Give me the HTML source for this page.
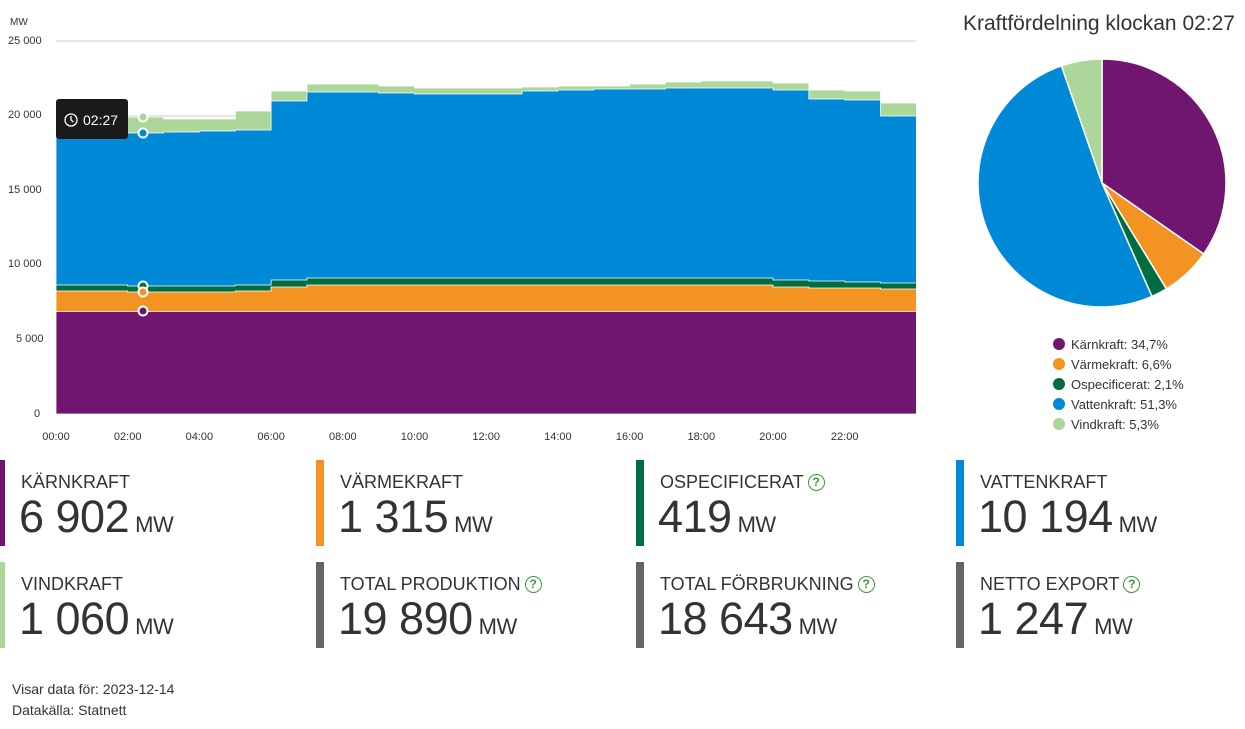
<!DOCTYPE html>
<html><head><meta charset="utf-8"><style>
body{margin:0;width:1245px;height:729px;background:#fff;font-family:"Liberation Sans",sans-serif;color:#333;position:relative;overflow:hidden}
.card{position:absolute;width:300px;height:86px}
.card .bar{position:absolute;left:0;top:0;width:8px;height:86px}
.card .lab{position:absolute;left:24px;top:12px;font-size:18px;color:#333;white-space:nowrap}
.card .val{position:absolute;left:22px;top:31px;font-size:45px;color:#333;white-space:nowrap;letter-spacing:-0.5px}
.card .val span{font-size:22px;margin-left:6px}
.q{display:inline-block;width:15px;height:15px;border:1.5px solid #3a9a3a;border-radius:50%;color:#3a9a3a;font-size:12px;line-height:15px;text-align:center;vertical-align:2px;margin-left:4px;font-weight:bold}
.foot{position:absolute;left:12px;font-size:14px;color:#333}
</style></head><body>
<svg id="ch" width="1245" height="450" style="position:absolute;left:0;top:0" font-family="Liberation Sans, sans-serif">
<text x="10" y="25" font-size="10" fill="#333">MW</text>
<g font-size="11" fill="#333">
<text x="8" y="44">25 000</text><text x="8" y="118">20 000</text><text x="8" y="193">15 000</text>
<text x="8" y="267">10 000</text><text x="16" y="342">5 000</text><text x="34" y="417">0</text>
</g>
<line x1="56" y1="41" x2="916" y2="41" stroke="#ccc"/>
<line x1="56" y1="116" x2="916" y2="116" stroke="#ccc"/>
<g id="areas"></g>
<g font-size="11" fill="#333" text-anchor="middle" id="xt"></g>
<g id="pie"></g>
<text x="1099" y="30" font-size="21" fill="#333" text-anchor="middle">Kraftfördelning klockan 02:27</text>
<g font-size="13" fill="#333">
<circle cx="1059" cy="344" r="6" fill="#701570"/><text x="1071" y="349">Kärnkraft: 34,7%</text>
<circle cx="1059" cy="364" r="6" fill="#f39322"/><text x="1071" y="369">Värmekraft: 6,6%</text>
<circle cx="1059" cy="384" r="6" fill="#006e41"/><text x="1071" y="389">Ospecificerat: 2,1%</text>
<circle cx="1059" cy="404" r="6" fill="#0089d6"/><text x="1071" y="409">Vattenkraft: 51,3%</text>
<circle cx="1059" cy="424" r="6" fill="#acd69a"/><text x="1071" y="429">Vindkraft: 5,3%</text>
</g>
<g id="mk"></g>
<rect x="56" y="99" width="72" height="40" rx="3" fill="#1a1a1a"/>
<circle cx="71" cy="120" r="6" fill="none" stroke="#fff" stroke-width="1.3"/><path d="M71 116v4l2.5 2" stroke="#fff" fill="none" stroke-width="1.3"/>
<text x="83" y="125" font-size="14" fill="#fff">02:27</text>
</svg>
<script>
var W=[115,115,117,119,119,111,91,84,84,86,88,88,88,87,86,86,84,82,81,81,83,90,91,103];
var V=[132,132,133,132,131,130,101,92,92,93,94,94,94,91,90,89,89,88,88,88,90,99,100,116];
var O=[285,285,286,286,286,285,280,278,278,278,278,278,278,278,278,278,278,278,278,278,280,281,282,283];
var M=[291,291,292,292,292,291,287,285,285,285,285,285,285,285,285,285,285,285,285,285,287,288,288,289];
var K=[];for(var i=0;i<24;i++)K.push(311.5);
function X(h){return 56+35.85*h}
function path(arr,col){var d="M56 414";for(var i=0;i<24;i++){d+=" L"+X(i)+" "+arr[i]+" L"+X(i+1)+" "+arr[i];}d+=" L"+X(24)+" 414Z";
return '<path d="'+d+'" fill="'+col+'" stroke="#fff" stroke-width="0.8"/>';}
document.getElementById('areas').innerHTML=path(W,'#acd69a')+path(V,'#0089d6')+path(O,'#006e41')+path(M,'#f39322')+path(K,'#701570');
var t="";for(var h=0;h<24;h+=2){t+='<text x="'+X(h)+'" y="440">'+(h<10?'0':'')+h+':00</text>';}
document.getElementById('xt').innerHTML=t;
var p=[34.7,6.6,2.1,51.3,5.3],c=['#701570','#f39322','#006e41','#0089d6','#acd69a'],cx=1102,cy=183,r=124,a=0,s="";
for(var i=0;i<5;i++){var a2=a+p[i]/100*2*Math.PI;var x1=cx+r*Math.sin(a),y1=cy-r*Math.cos(a),x2=cx+r*Math.sin(a2),y2=cy-r*Math.cos(a2);
s+='<path d="M'+cx+' '+cy+' L'+x1+' '+y1+' A'+r+' '+r+' 0 '+((a2-a)>Math.PI?1:0)+' 1 '+x2+' '+y2+'Z" fill="'+c[i]+'" stroke="#fff" stroke-width="1.5"/>';a=a2;}
document.getElementById('pie').innerHTML=s;
var mk=[[117,'#acd69a'],[133,'#0089d6'],[286,'#006e41'],[292,'#f39322'],[311,'#701570']],m="";
mk.forEach(function(q){m+='<circle cx="143" cy="'+q[0]+'" r="4.5" fill="'+q[1]+'" stroke="#fff" stroke-width="2"/>';});
document.getElementById('mk').innerHTML=m;
</script>
<div class="card" style="left:-3px;top:460px"><div class="bar" style="background:#701570"></div><div class="lab">KÄRNKRAFT</div><div class="val">6 902<span>MW</span></div></div>
<div class="card" style="left:316px;top:460px"><div class="bar" style="background:#f39322"></div><div class="lab">VÄRMEKRAFT</div><div class="val">1 315<span>MW</span></div></div>
<div class="card" style="left:636px;top:460px"><div class="bar" style="background:#006e41"></div><div class="lab">OSPECIFICERAT<span class="q">?</span></div><div class="val">419<span>MW</span></div></div>
<div class="card" style="left:956px;top:460px"><div class="bar" style="background:#0089d6"></div><div class="lab">VATTENKRAFT</div><div class="val">10 194<span>MW</span></div></div>
<div class="card" style="left:-3px;top:562px"><div class="bar" style="background:#acd69a"></div><div class="lab">VINDKRAFT</div><div class="val">1 060<span>MW</span></div></div>
<div class="card" style="left:316px;top:562px"><div class="bar" style="background:#666"></div><div class="lab">TOTAL PRODUKTION<span class="q">?</span></div><div class="val">19 890<span>MW</span></div></div>
<div class="card" style="left:636px;top:562px"><div class="bar" style="background:#666"></div><div class="lab">TOTAL FÖRBRUKNING<span class="q">?</span></div><div class="val">18 643<span>MW</span></div></div>
<div class="card" style="left:956px;top:562px"><div class="bar" style="background:#666"></div><div class="lab">NETTO EXPORT<span class="q">?</span></div><div class="val">1 247<span>MW</span></div></div>
<div class="foot" style="top:681px">Visar data för: 2023-12-14</div>
<div class="foot" style="top:702px">Datakälla: Statnett</div>
</body></html>
